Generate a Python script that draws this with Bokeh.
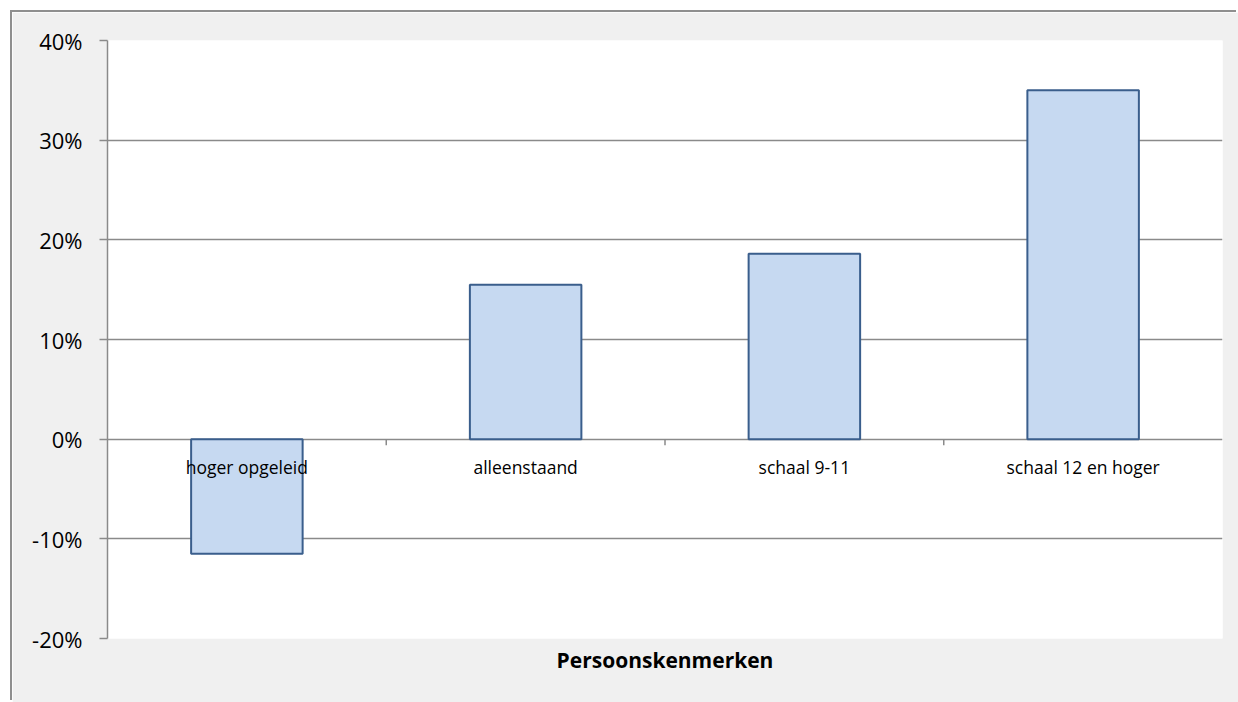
from bokeh.plotting import figure
from bokeh.models import Range1d, FactorRange, PrintfTickFormatter, FixedTicker, Title, ColumnDataSource
from bokeh.core.properties import value
from bokeh.embed import file_html
from bokeh.resources import INLINE

categories = ["hoger opgeleid", "alleenstaand", "schaal 9-11", "schaal 12 en hoger"]
values = [-11.5, 15.5, 18.6, 35.0]
y_ticks = [-20, -10, 0, 10, 20, 30, 40]
x_title = "Persoonskenmerken"

GRID = "#8a8a8a"

p = figure(x_range=FactorRange(*categories), y_range=Range1d(-20, 40),
           width=1226, height=690, output_backend="svg", toolbar_location=None,
           x_axis_location=None,
           min_border_left=95, min_border_top=28, min_border_right=16, min_border_bottom=64)
p.margin = (12, 0, 0, 12)
p.styles = {"box-shadow": "-2px -2px 0px 0px #8f8f8f"}

p.background_fill_color = "white"
p.border_fill_color = "#f0f0f0"
p.outline_line_color = None

ax = p.yaxis[0]
ax.ticker = FixedTicker(ticks=y_ticks)
ax.formatter = PrintfTickFormatter(format="%d%%")
ax.major_tick_out = 8
ax.major_tick_in = 0
ax.minor_tick_line_color = None
ax.axis_line_color = GRID
ax.axis_line_width = 1.5
ax.major_tick_line_color = GRID
ax.major_tick_line_width = 1.5
ax.major_label_text_font = "Open Sans"
ax.major_label_text_font_size = "22px"
ax.major_label_text_color = "black"
ax.major_label_standoff = 17

p.ygrid.ticker = FixedTicker(ticks=y_ticks)
p.ygrid.grid_line_color = GRID
p.ygrid.grid_line_width = 1.5
p.xgrid.visible = False

src = ColumnDataSource(dict(cat=categories, val=values, zero=[0] * len(categories)))
p.vbar(x="cat", top="val", bottom=0, width=0.4, source=src,
       fill_color="#c6d9f1", line_color="#3a5e8c", line_width=2)

bounds = list(range(1, len(categories)))
p.segment(x0=bounds, x1=bounds, y0=[0] * len(bounds), y1=[-0.6] * len(bounds),
          line_color=GRID, line_width=1.5)

p.text(x="cat", y="zero", text="cat", source=src, text_align="center", text_baseline="top",
       y_offset=16, text_font=value("Open Sans"), text_font_size="17.5px", text_color="black")

t = Title(text=x_title, align="center", text_font="Open Sans", text_font_style="bold",
          text_font_size="21px", text_color="black")
p.add_layout(t, "below")

open("out.html", "w").write(file_html(p, INLINE))
